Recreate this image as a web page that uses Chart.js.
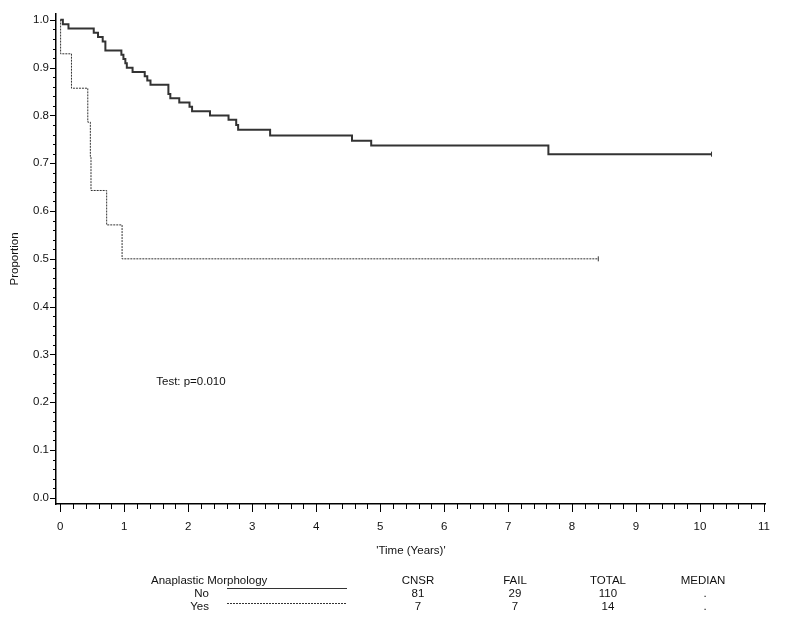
<!DOCTYPE html>
<html>
<head>
<meta charset="utf-8">
<script src="https://cdn.jsdelivr.net/npm/chart.js@4.4.1/dist/chart.umd.min.js"></script>
<style>
  body { margin: 0; background: #fff; }
  #wrap { position: relative; width: 786px; height: 628px; font-family: "Liberation Sans", Arial, sans-serif; font-size: 11.5px; color: #111; }
  #km { position: absolute; left: 0; top: 0; }
  .cell { position: absolute; line-height: 13px; white-space: nowrap; }
  .ctr { transform: translateX(-50%); }
  .rgt { transform: translateX(-100%); }
  .solid { position: absolute; height: 0; border-top: 1.5px solid #333; }
  .dots { position: absolute; height: 1px; background: repeating-linear-gradient(to right, #333 0 2px, transparent 2px 3px); }
</style>
</head>
<body>
<div id="wrap">
  <canvas id="km" width="786" height="628"></canvas>
  <div id="table"></div>
</div>
<script>
// Kaplan-Meier estimates
const noTimes = [0, 0.04, 0.128, 0.523, 0.59, 0.663, 0.705, 0.955, 0.987, 1.017, 1.04, 1.13, 1.32, 1.36, 1.41, 1.69, 1.72, 1.86, 2.02, 2.06, 2.34, 2.63, 2.75, 2.78, 3.28, 4.56, 4.86, 7.63, 10.18];
const noSurv = [1.0, 0.991, 0.982, 0.973, 0.964, 0.955, 0.936, 0.927, 0.918, 0.909, 0.9, 0.891, 0.882, 0.873, 0.864, 0.845, 0.836, 0.827, 0.818, 0.809, 0.8, 0.791, 0.78, 0.77, 0.758, 0.747, 0.737, 0.719, 0.719];
const yesTimes = [0, 0.005, 0.175, 0.43, 0.47, 0.48, 0.725, 0.966, 8.41];
const yesSurv = [1.0, 0.929, 0.857, 0.786, 0.714, 0.643, 0.571, 0.5, 0.5];

const xTicks = [0, 1, 2, 3, 4, 5, 6, 7, 8, 9, 10, 11];
const yTicks = [0, 0.1, 0.2, 0.3, 0.4, 0.5, 0.6, 0.7, 0.8, 0.9, 1.0];

const groups = ["No", "Yes"];
const cnsr = ["81", "7"];
const fail = ["29", "7"];
const total = ["110", "14"];
const median = [".", "."];

const testText = "Test: p=0.010";

Chart.defaults.font.family = '"Liberation Sans", Arial, sans-serif';
Chart.defaults.font.size = 11.5;
Chart.defaults.color = "#111";

function toPoints(times, surv) {
  return times.map((t, i) => ({ x: t, y: surv[i] }));
}

function lastOnly(n, r) {
  return (c) => (c.dataIndex === n - 1 ? r : 0);
}

// minor/major tick marks and the p-value note
const axisDecor = {
  id: "axisDecor",
  afterDraw(chart) {
    const ctx = chart.ctx;
    const xs = chart.scales.x;
    const ys = chart.scales.y;
    ctx.save();
    ctx.strokeStyle = "#000";
    ctx.lineWidth = 1;
    ctx.beginPath();
    for (let i = 0; i <= 55; i++) {
      const px = Math.round(xs.getPixelForValue(i / 5)) + 0.5;
      const len = i % 5 === 0 ? 8 : 5;
      ctx.moveTo(px, xs.top);
      ctx.lineTo(px, xs.top + len);
    }
    for (let i = 0; i <= 50; i++) {
      const py = Math.round(ys.getPixelForValue(i / 50)) + 0.5;
      const len = i % 5 === 0 ? 6 : 3;
      ctx.moveTo(ys.right - len, py);
      ctx.lineTo(ys.right, py);
    }
    ctx.stroke();

    ctx.fillStyle = "#111";
    ctx.font = '11.5px "Liberation Sans", Arial, sans-serif';
    ctx.textBaseline = "middle";
    ctx.textAlign = "left";
    ctx.fillText(testText, xs.getPixelForValue(1.5), ys.getPixelForValue(0.243));
    ctx.restore();
  }
};

new Chart(document.getElementById("km"), {
  type: "line",
  data: {
    datasets: [
      {
        label: "No",
        data: toPoints(noTimes, noSurv),
        stepped: "before",
        borderColor: "#333",
        borderWidth: 2,
        pointStyle: "line",
        rotation: 90,
        pointRadius: lastOnly(noTimes.length, 2.5),
        pointBorderColor: "#333",
        pointBorderWidth: 1
      },
      {
        label: "Yes",
        data: toPoints(yesTimes, yesSurv),
        stepped: "before",
        borderColor: "#333",
        borderWidth: 1,
        borderDash: [2, 1],
        pointStyle: "line",
        rotation: 90,
        pointRadius: lastOnly(yesTimes.length, 2.5),
        pointBorderColor: "#333",
        pointBorderWidth: 1
      }
    ]
  },
  options: {
    responsive: false,
    animation: false,
    layout: { padding: { top: 13, right: 18, bottom: 68, left: 0 } },
    plugins: {
      legend: { display: false },
      tooltip: { enabled: false }
    },
    scales: {
      x: {
        type: "linear",
        min: -0.067,
        max: 11.03,
        afterBuildTicks: (s) => { s.ticks = xTicks.map((v) => ({ value: v })); },
        afterFit: (s) => { s.height = 56; },
        grid: { display: false, drawTicks: false },
        border: { display: true, color: "#000", width: 1.5 },
        ticks: { padding: 16, maxRotation: 0, autoSkip: false, color: "#111" },
        title: { display: true, text: "'Time (Years)'", padding: { top: 0, bottom: 2 }, color: "#111" }
      },
      y: {
        type: "linear",
        min: -0.013,
        max: 1.0125,
        afterBuildTicks: (s) => { s.ticks = yTicks.map((v) => ({ value: v })); },
        afterFit: (s) => { s.width = 56; },
        grid: { display: false, drawTicks: false },
        border: { display: true, color: "#000", width: 1.5 },
        ticks: { padding: 7, autoSkip: false, color: "#111", callback: (v) => v.toFixed(1) },
        title: { display: true, text: "Proportion", padding: { top: 8, bottom: 0 }, color: "#111" }
      }
    }
  },
  plugins: [axisDecor]
});

// summary table under the plot
const table = document.getElementById("table");
function cell(text, x, y, cls) {
  const d = document.createElement("div");
  d.className = "cell " + cls;
  d.style.left = x + "px";
  d.style.top = (y - 6.5) + "px";
  d.textContent = text;
  table.appendChild(d);
}
cell("Anaplastic Morphology", 151, 580, "");
cell("CNSR", 418, 580, "ctr");
cell("FAIL", 515, 580, "ctr");
cell("TOTAL", 608, 580, "ctr");
cell("MEDIAN", 703, 580, "ctr");
const rowY = [593, 606];
const lineY = [588, 603];
groups.forEach((g, i) => {
  cell(g, 209, rowY[i], "rgt");
  cell(cnsr[i], 418, rowY[i], "ctr");
  cell(fail[i], 515, rowY[i], "ctr");
  cell(total[i], 608, rowY[i], "ctr");
  cell(median[i], 705, rowY[i], "ctr");
  const ln = document.createElement("div");
  ln.className = i === 0 ? "solid" : "dots";
  ln.style.left = "227px";
  ln.style.width = "120px";
  ln.style.top = lineY[i] + "px";
  table.appendChild(ln);
});
</script>
</body>
</html>
